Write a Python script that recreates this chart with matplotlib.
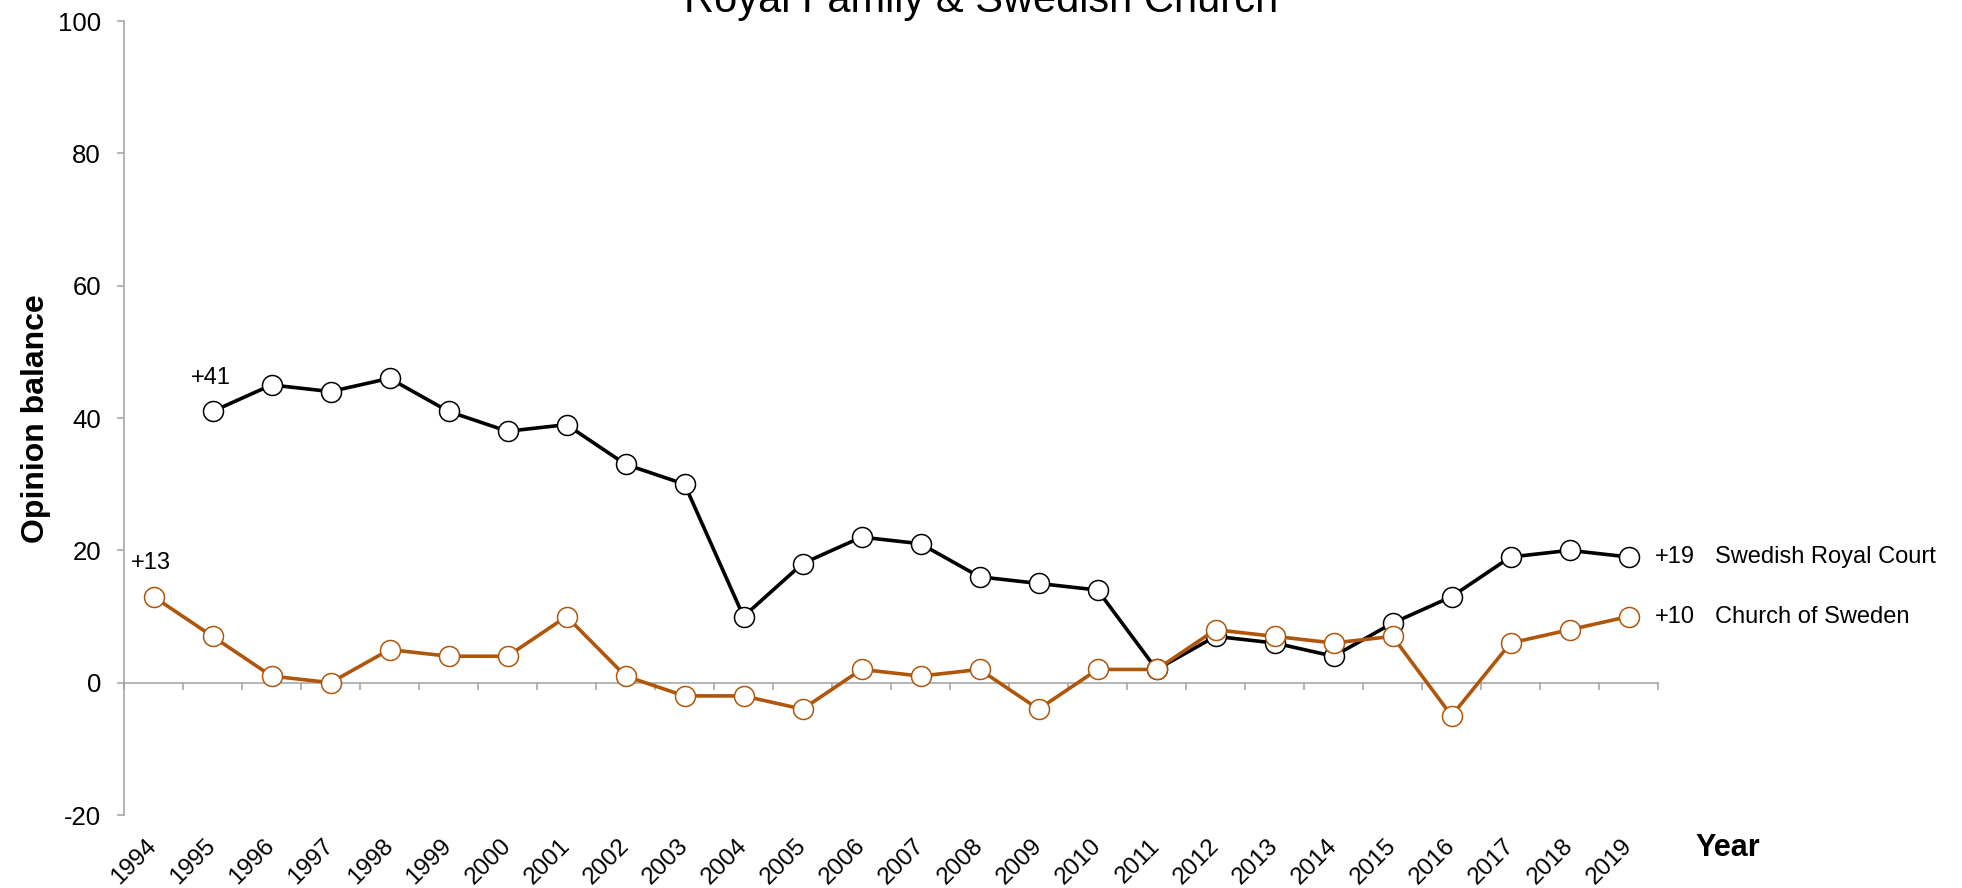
import numpy as np
import matplotlib.pyplot as plt

plt.rcParams['font.family'] = ['Liberation Sans', 'DejaVu Sans']
plt.rcParams['axes.unicode_minus'] = False

# data
years = ['1994', '1995', '1996', '1997', '1998', '1999', '2000', '2001', '2002',
         '2003', '2004', '2005', '2006', '2007', '2008', '2009', '2010', '2011',
         '2012', '2013', '2014', '2015', '2016', '2017', '2018', '2019']
royal_court = [np.nan, 41, 45, 44, 46, 41, 38, 39, 33, 30, 10, 18, 22, 21, 16,
               15, 14, 2, 7, 6, 4, 9, 13, 19, 20, 19]
church = [13, 7, 1, 0, 5, 4, 4, 10, 1, -2, -2, -4, 2, 1, 2, -4, 2, 2, 8, 7, 6,
          7, -5, 6, 8, 10]
y_ticks = [-20, 0, 20, 40, 60, 80, 100]

svart = 'black'
brun = '#AF560B'
grå = '#A0A0A0'

fig = plt.figure(figsize=(19.62, 8.88), dpi=100)
ax = fig.add_axes([0.0632, 0.0822, 0.7819, 0.8941])
x = np.arange(len(years))

ax.plot(x, royal_court, color=svart, lw=2.6, marker='o', ms=14.4,
        mfc='white', mec=svart, mew=1.1, zorder=3)
ax.plot(x, church, color=brun, lw=2.6, marker='o', ms=14.4,
        mfc='white', mec=brun, mew=1.1, zorder=4)

ax.set_xlim(-0.5, len(years) - 0.5)
ax.set_ylim(y_ticks[0], y_ticks[-1])
ax.set_yticks(y_ticks)
for s in ['top', 'right', 'bottom']:
    ax.spines[s].set_visible(False)
ax.spines['left'].set_color(grå)
ax.spines['left'].set_linewidth(1.1)
ax.tick_params(axis='y', colors=grå, labelcolor='black', length=5,
               width=1.1, labelsize=18.5, pad=11.5)

ax.set_xticks(x)
ax.set_xticklabels(years, rotation=45, ha='right', va='center',
                   rotation_mode='anchor', fontsize=17.5)
ax.tick_params(axis='x', length=0, pad=20)

# zero line with category tick marks
lo, hi = ax.get_ylim()
nolla = ax.secondary_xaxis((0 - lo) / (hi - lo))
nolla.set_xticks(np.arange(-0.5, len(years), 1))
nolla.tick_params(axis='x', length=5, width=1.1, color=grå, labelbottom=False)
nolla.spines['bottom'].set_color(grå)
nolla.spines['bottom'].set_linewidth(1.1)

# annotations
ax.annotate('+41', (1, royal_court[1]), xytext=(-1, 24), textcoords='offset points',
            ha='center', va='center', fontsize=17)
ax.annotate('+13', (0, church[0]), xytext=(-2, 24), textcoords='offset points',
            ha='center', va='center', fontsize=17)
for serie, namn in [(royal_court, 'Swedish Royal Court'), (church, 'Church of Sweden')]:
    ax.annotate('+%d' % serie[-1], (x[-1], serie[-1]), xytext=(19, 0),
                textcoords='offset points', ha='left', va='center',
                fontsize=17, annotation_clip=False)
    ax.annotate(namn, (x[-1], serie[-1]), xytext=(62, 0),
                textcoords='offset points', ha='left', va='center',
                fontsize=17, annotation_clip=False)

fig.text(0.5, 1 - 12 / 888, 'Royal Family & Swedish Church', ha='center',
         va='baseline', fontsize=30)
fig.text(36 / 1962, 0.529, 'Opinion balance', rotation=90, ha='center',
         va='center', fontsize=23, fontweight='bold')
fig.text(1728 / 1962, 1 - 848 / 888, 'Year', ha='center', va='center',
         fontsize=22, fontweight='bold')

fig.savefig('out.png', dpi=100)
